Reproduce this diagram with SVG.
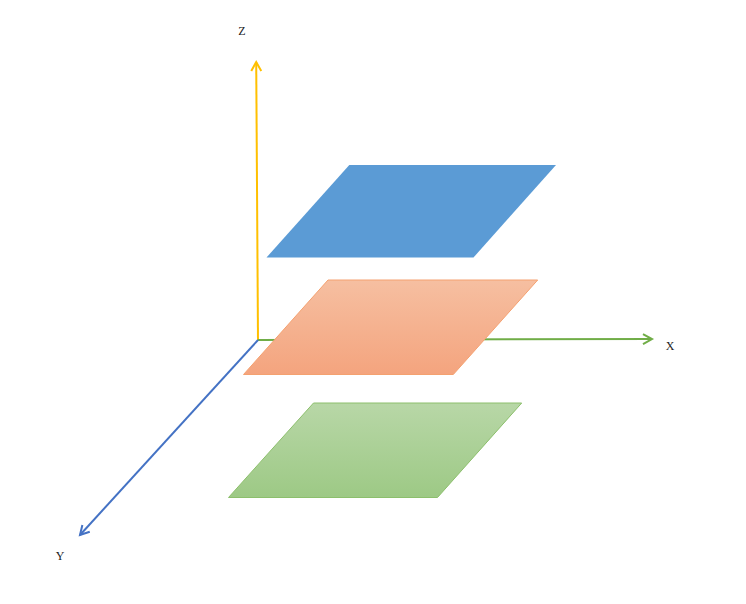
<svg xmlns="http://www.w3.org/2000/svg" width="746" height="604" viewBox="0 0 746 604">
<defs>
<linearGradient id="gOrange" x1="0" y1="0" x2="0" y2="1">
<stop offset="0" stop-color="#F6BFA1"/>
<stop offset="1" stop-color="#F4A47E"/>
</linearGradient>
<linearGradient id="gGreen" x1="0" y1="0" x2="0" y2="1">
<stop offset="0" stop-color="#B8D7A7"/>
<stop offset="1" stop-color="#9DC985"/>
</linearGradient>
<marker id="aZ" viewBox="0 0 10 10" refX="9" refY="5" markerWidth="10" markerHeight="10" orient="auto" markerUnits="userSpaceOnUse" overflow="visible">
<path d="M0,0 L9,5 L0,10" fill="none" stroke="#FFC000" stroke-width="2"/>
</marker>
<marker id="aX" viewBox="0 0 10 10" refX="9" refY="5" markerWidth="10" markerHeight="10" orient="auto" markerUnits="userSpaceOnUse" overflow="visible">
<path d="M0,0 L9,5 L0,10" fill="none" stroke="#70AD47" stroke-width="2"/>
</marker>
<marker id="aB" viewBox="0 0 10 10" refX="9" refY="5" markerWidth="10" markerHeight="10" orient="auto" markerUnits="userSpaceOnUse" overflow="visible">
<path d="M0,0 L9,5 L0,10" fill="none" stroke="#4472C4" stroke-width="2"/>
</marker>
<style>
.lbl{font-family:"Liberation Serif","Times New Roman",serif;font-size:12px;fill:#222}
.ax{fill:none;stroke-width:2}
</style>
</defs>
<rect width="746" height="604" fill="#fff"/>
<g id="connectors">
<line class="ax" x1="258" y1="340" x2="256.2" y2="62" stroke="#FFC000" marker-end="url(#aZ)"/>
<line class="ax" x1="258" y1="340" x2="652" y2="339" stroke="#70AD47" marker-end="url(#aX)"/>
<line class="ax" x1="258" y1="340" x2="80" y2="535" stroke="#4472C4" marker-end="url(#aB)"/>
</g>
<g id="plane-blue">
<polygon points="349.3,165 556,165 473.5,257.5 266.5,257.5" fill="#5B9BD5"/>
</g>
<g id="plane-orange">
<polygon points="328,280 537.7,280 453.3,374.5 243.5,374.5" fill="url(#gOrange)" stroke="#F4A170" stroke-width="1"/>
</g>
<g id="plane-green">
<polygon points="313.5,403 521.7,403 437.5,497.5 228.5,497.5" fill="url(#gGreen)" stroke="#8CBF6C" stroke-width="1"/>
</g>
<g id="label-z"><text class="lbl" x="242" y="35" text-anchor="middle">Z</text></g>
<g id="label-x"><text class="lbl" x="670" y="350" text-anchor="middle">X</text></g>
<g id="label-y"><text class="lbl" x="60" y="560" text-anchor="middle">Y</text></g>
</svg>
